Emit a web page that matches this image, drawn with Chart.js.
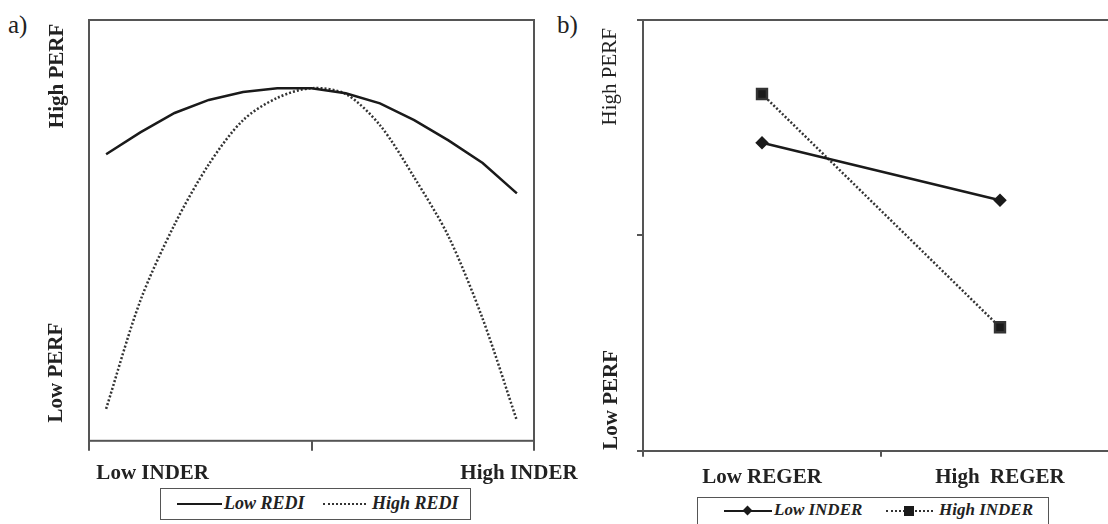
<!DOCTYPE html>
<html>
<head>
<meta charset="utf-8">
<script src="https://cdn.jsdelivr.net/npm/chart.js@4"></script>
<style>
html, body { margin: 0; padding: 0; width: 1108px; height: 524px; overflow: hidden; background: #fff; }
body { position: relative; font-family: "Times New Roman", "Liberation Serif", Tinos, "DejaVu Serif", serif; color: #222; }
#chartA { position: absolute; left: 0; top: 0; }
#chartB { position: absolute; left: 560px; top: 0; }
.tag { position: absolute; font-size: 25px; line-height: 25px; }
.legend { position: absolute; border: 1.5px solid #555; box-sizing: border-box; font-weight: bold; font-style: italic; background: #fff; }
.legend span { position: absolute; white-space: nowrap; }
.solid { position: absolute; height: 0; border-top: 2.5px solid #1a1a1a; }
.dots { position: absolute; height: 0; border-top: 2.5px dotted #333; }
.mk { position: absolute; background: #1a1a1a; }
</style>
</head>
<body>
<div class="tag" style="left:8px;top:12px">a)</div>
<div class="tag" style="left:557px;top:12px">b)</div>

<canvas id="chartA" width="600" height="524"></canvas>
<canvas id="chartB" width="600" height="524"></canvas>

<div class="legend" style="left:160px;top:488px;width:311px;height:32px;font-size:18px">
  <div class="solid" style="left:16px;top:14px;width:45px"></div>
  <span style="left:63px;top:4px">Low REDI</span>
  <div class="dots" style="left:162px;top:14px;width:43px"></div>
  <span style="left:211px;top:4px">High REDI</span>
</div>

<div class="legend" style="left:697px;top:497px;width:352px;height:40px;font-size:17px">
  <div class="solid" style="left:26px;top:12px;width:48px"></div>
  <div class="mk" style="left:46px;top:9px;width:7px;height:7px;transform:rotate(45deg)"></div>
  <span style="left:76px;top:2px">Low INDER</span>
  <div class="dots" style="left:188px;top:12px;width:47px"></div>
  <div class="mk" style="left:206px;top:8px;width:10px;height:10px"></div>
  <span style="left:241px;top:2px">High INDER</span>
</div>

<script>
// panel a) curvilinear effect of INDER for two levels of REDI
const inderSteps = [0, 1, 2, 3, 4, 5, 6, 7, 8, 9, 10, 11, 12]
const lowRedi = [6.81, 7.33, 7.79, 8.10, 8.29, 8.38, 8.38, 8.26, 8.02, 7.62, 7.14, 6.60, 5.88]
const highRedi = [0.76, 3.33, 5.14, 6.57, 7.62, 8.15, 8.38, 8.24, 7.50, 6.26, 4.86, 2.90, 0.48]
const inderTicks = [-0.5, 6, 12.5]
const inderLabels = ['Low INDER', 'High INDER']
const inderLabelAt = [1.36, 12.06]

// panel b) interaction of REGER and INDER
const regerCats = ['Low REGER', 'High  REGER']
const lowInder = [4.29, 3.49]
const highInder = [4.97, 1.72]

const perfLabels = ['High PERF', 'Low PERF']

const ink = '#1a1a1a'
const axisGrey = '#555'
const serif = '"Times New Roman", "Liberation Serif", Tinos, "DejaVu Serif", serif'

// rotated "High PERF" / "Low PERF" labels beside the y axis
const sideLabels = {
  id: 'sideLabels',
  afterDraw(chart, args, opts) {
    const { ctx, chartArea, scales } = chart
    opts.texts.forEach((t, i) => {
      ctx.save()
      ctx.translate(chartArea.left + opts.offset[i], scales.y.getPixelForValue(opts.at[i]))
      ctx.rotate(-Math.PI / 2)
      ctx.font = opts.fonts[i]
      ctx.fillStyle = '#222'
      ctx.textAlign = 'center'
      ctx.textBaseline = 'middle'
      ctx.fillText(t, 0, 0)
      ctx.restore()
    })
  }
}

// box round the plot area of panel a)
const frame = {
  id: 'frame',
  beforeDatasetsDraw(chart) {
    const { ctx, chartArea: a } = chart
    ctx.save()
    ctx.strokeStyle = axisGrey
    ctx.lineWidth = 2
    ctx.strokeRect(a.left, a.top, a.width, a.height)
    ctx.restore()
  }
}

new Chart(document.getElementById('chartA'), {
  type: 'line',
  data: {
    datasets: [{
      label: 'Low REDI',
      data: inderSteps.map((x, i) => ({ x, y: lowRedi[i] })),
      borderColor: ink,
      borderWidth: 2.5,
      pointRadius: 0,
      tension: 0
    }, {
      label: 'High REDI',
      data: inderSteps.map((x, i) => ({ x, y: highRedi[i] })),
      borderColor: '#333',
      borderWidth: 2.5,
      borderDash: [2, 2],
      pointRadius: 0,
      tension: 0.3
    }]
  },
  options: {
    responsive: false,
    animation: false,
    layout: { padding: { left: 81, top: 20, right: 66, bottom: 36 } },
    scales: {
      x: {
        type: 'linear',
        min: -0.5,
        max: 12.5,
        weight: 0,
        afterBuildTicks: axis => { axis.ticks = inderTicks.map(v => ({ value: v })) },
        ticks: { display: false },
        grid: { drawOnChartArea: false, tickLength: 10, color: axisGrey, lineWidth: 2 },
        border: { display: false }
      },
      xl: {
        type: 'linear',
        position: 'bottom',
        min: -0.5,
        max: 12.5,
        weight: 1,
        afterBuildTicks: axis => { axis.ticks = inderLabelAt.map(v => ({ value: v })) },
        ticks: {
          padding: 2,
          color: '#222',
          font: { family: serif, size: 21, weight: 'bold' },
          maxRotation: 0,
          callback: (v, i) => inderLabels[i]
        },
        grid: { display: false },
        border: { display: false }
      },
      y: {
        min: 0,
        max: 10,
        ticks: { display: false },
        grid: { display: false },
        border: { display: false }
      }
    },
    plugins: {
      legend: { display: false },
      tooltip: { enabled: false },
      sideLabels: {
        texts: perfLabels,
        at: [8.67, 1.62],
        offset: [-31, -32],
        fonts: ['bold 21px ' + serif, 'bold 21px ' + serif]
      }
    }
  },
  plugins: [frame, sideLabels]
})

new Chart(document.getElementById('chartB'), {
  type: 'line',
  data: {
    labels: regerCats,
    datasets: [{
      label: 'Low INDER',
      data: lowInder,
      borderColor: ink,
      backgroundColor: ink,
      borderWidth: 2.5,
      pointStyle: 'rectRot',
      pointRadius: 5,
      tension: 0
    }, {
      label: 'High INDER',
      data: highInder,
      borderColor: '#333',
      backgroundColor: ink,
      borderWidth: 2.5,
      borderDash: [2, 2],
      pointStyle: 'rect',
      pointRadius: 7,
      tension: 0
    }]
  },
  options: {
    responsive: false,
    animation: false,
    layout: { padding: { left: 77, top: 20, right: 41, bottom: 26 } },
    scales: {
      x: {
        offset: true,
        ticks: {
          padding: 8,
          color: '#222',
          font: { family: serif, size: 21, weight: 'bold' },
          maxRotation: 0
        },
        grid: { offset: true, drawOnChartArea: false, tickLength: 6, color: axisGrey, lineWidth: 2 },
        border: { color: axisGrey, width: 2 }
      },
      y: {
        min: 0,
        max: 6,
        ticks: { display: false, stepSize: 3 },
        grid: {
          tickLength: 6,
          lineWidth: 2,
          tickColor: axisGrey,
          color: c => (c.tick && c.tick.value === 6 ? axisGrey : 'rgba(0,0,0,0)')
        },
        border: { color: axisGrey, width: 2 }
      }
    },
    plugins: {
      legend: { display: false },
      tooltip: { enabled: false },
      sideLabels: {
        texts: perfLabels,
        at: [5.21, 0.71],
        offset: [-33, -31],
        fonts: ['21px ' + serif, 'bold 21px ' + serif]
      }
    }
  },
  plugins: [sideLabels]
})
</script>
</body>
</html>
